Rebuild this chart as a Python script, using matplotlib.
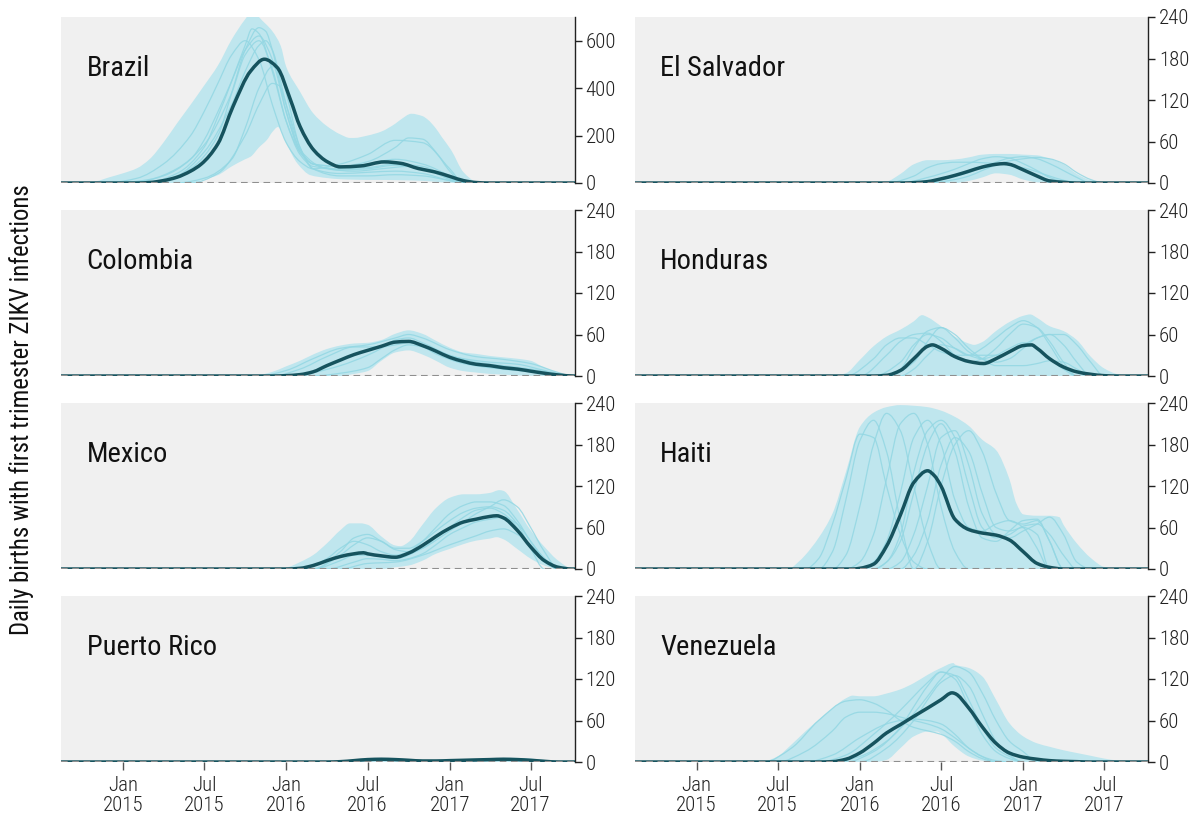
import numpy as np
import pandas as pd
import matplotlib
matplotlib.use("Agg")
import matplotlib.pyplot as plt
import matplotlib.dates as mdates
from matplotlib import font_manager
from matplotlib.path import Path
from matplotlib.patches import PathPatch

# ---------------------------------------------------------------- fonts
installed = {f.name for f in font_manager.fontManager.ttflist}
FONT = "DejaVu Sans"
for fam in ["Roboto Condensed", "Liberation Sans Narrow", "Roboto"]:
    if fam in installed:
        FONT = fam
        break
plt.rcParams["font.family"] = [FONT, "DejaVu Sans"]

# ---------------------------------------------------------------- data
# Time is given in months since 1 Jan 2015 (fractions = part of the month).
T_START, T_END = -4.55, 33.2

# Brazil
brazil_hi_t = [-3, -2, -1, 0, 1, 2, 3, 4, 5, 6, 7, 8, 9, 9.6, 10, 11, 11.6, 12, 13, 14, 15, 16, 16.7,
               17, 18, 19, 20, 20.4, 21.2, 22, 22.4, 23, 23.4, 24.1, 25, 26, 27]
brazil_hi_v = [0, 7, 24, 41, 62, 100, 170, 250, 330, 410, 495, 605, 690, 730, 700, 640, 579, 490, 385,
               295, 240, 205, 190, 190, 200, 217, 250, 267, 292, 282, 267, 230, 196, 139, 45, 6, 0]
brazil_lo_t = [5, 6, 7, 8, 9, 9.4, 10, 10.6, 11, 11.4, 12, 12.8, 13.8, 15, 16, 17, 18, 19, 20, 21, 22, 23, 24, 25]
brazil_lo_v = [0, 15, 33, 70, 100, 111, 150, 182, 215, 236, 168, 83, 33, 21, 16, 14, 13, 13, 12, 11, 9, 5, 1, 0]
brazil_med_t = [1, 2, 3, 4, 5, 5.8, 7, 8.1, 9.4, 10.4, 11.35, 12.3, 13, 14.05, 15.05, 16, 17.5, 19.2,
                20.4, 21.7, 22.9, 24.1, 25, 26, 27]
brazil_med_v = [0, 2, 10, 24, 50, 80, 165, 323, 472, 522, 487, 352, 238, 139, 89, 68, 72, 89, 83, 61,
                47, 26, 10, 2, 0]
brazil_sim_t = [
    [2, 4, 6, 7, 8, 9, 9.5, 10, 11, 12, 13, 14, 16, 18, 20, 22, 24, 25],
    [1, 3, 5, 6, 7, 8, 9, 10, 11, 12, 13, 14, 16, 18, 20, 22, 24, 25],
    [4, 6, 8, 9, 10, 11, 11.5, 12, 13, 14, 16, 18, 20, 22, 24, 25],
    [-1, 1, 3, 5, 6, 7, 8, 9, 10, 11, 12, 13, 14, 16, 18, 20, 22, 24, 25],
    [3, 5, 7, 8, 9, 10, 10.5, 11, 12, 13, 14, 16, 18, 20, 22, 23, 24, 25],
    [5, 7, 9, 10, 11, 11.5, 12, 13, 14, 16, 18, 20, 22, 24, 25],
    [0, 2, 4, 6, 8, 9, 10, 11, 12, 13, 14, 16, 18, 20, 21, 22, 23, 24, 25],
    [2, 4, 6, 8, 9, 10, 10.5, 11, 12, 13, 15, 17, 19, 21, 23, 24, 25],
]
brazil_sim_v = [
    [5, 40, 150, 280, 430, 580, 650, 630, 470, 260, 120, 70, 60, 65, 80, 70, 20, 0],
    [5, 30, 100, 180, 300, 430, 560, 620, 520, 300, 140, 80, 70, 80, 100, 80, 30, 0],
    [0, 20, 100, 230, 400, 490, 480, 380, 150, 60, 40, 45, 50, 40, 10, 0],
    [2, 20, 80, 200, 300, 420, 540, 600, 520, 330, 170, 90, 60, 80, 120, 180, 170, 60, 0],
    [10, 60, 200, 380, 560, 655, 640, 560, 300, 130, 80, 55, 60, 75, 60, 40, 15, 0],
    [0, 40, 200, 330, 420, 410, 330, 150, 60, 30, 30, 35, 30, 10, 0],
    [3, 15, 60, 160, 380, 540, 600, 480, 260, 130, 80, 70, 90, 150, 190, 185, 130, 50, 0],
    [2, 30, 130, 330, 470, 580, 600, 560, 330, 140, 60, 50, 60, 70, 45, 15, 0],
]

# El Salvador
salvador_hi_t = [13, 14, 15, 16, 17, 18, 19, 20, 21, 22, 23, 24, 25, 26, 27, 28, 29, 30, 31]
salvador_hi_v = [0, 2, 13, 27, 33, 33, 34, 37, 41, 42, 42, 41, 40, 35, 27, 13, 4, 1, 0]
salvador_lo_t = [19, 20, 21, 22, 23, 24, 25, 26]
salvador_lo_v = [0, 3, 8, 14, 12, 5, 1, 0]
salvador_med_t = [15, 16, 17, 18, 19, 20, 21, 22, 22.6, 23, 24, 25, 26, 27, 28]
salvador_med_v = [0, 0.5, 2, 6, 11, 17, 23, 27, 28, 27, 19, 10, 3, 1, 0]
salvador_sim_t = [
    [15, 17, 19, 20, 21, 22, 23, 24, 25, 26, 27, 28],
    [16, 18, 20, 21, 22, 23, 24, 25, 26, 27, 28, 29],
    [14, 16, 17, 18, 19, 20, 22, 24, 26, 27, 28],
    [17, 19, 20, 21, 22, 23, 24, 25, 26, 27, 28, 29, 30],
]
salvador_sim_v = [
    [0, 8, 20, 28, 35, 38, 36, 28, 18, 8, 2, 0],
    [0, 5, 15, 22, 30, 36, 38, 35, 28, 18, 8, 0],
    [0, 10, 22, 28, 30, 30, 28, 22, 10, 4, 0],
    [0, 5, 10, 18, 26, 32, 35, 37, 35, 28, 15, 5, 0],
]

# Colombia
colombia_hi_t = [9, 10, 11, 12, 13, 14, 15, 16, 17, 18, 19, 20, 21, 22, 23, 24, 25, 26, 27, 28, 29, 30, 31, 32, 33.2]
colombia_hi_v = [0, 1.5, 6, 14, 22, 31, 39, 44, 47, 48, 52, 61, 66, 61, 51, 41, 34, 32, 29, 27, 25, 22, 12, 5, 0]
colombia_lo_t = [16, 17, 18, 19, 20, 21, 22, 23, 24, 25, 26, 27, 28, 29, 30, 31]
colombia_lo_v = [0, 3, 7, 22, 34, 37, 31, 22, 12, 7, 5, 3, 2, 1, 0.5, 0]
colombia_med_t = [11, 12, 13, 14, 15, 16, 17, 18, 19, 20, 21, 22, 23, 24, 25, 26, 27, 28, 29, 30, 31, 32, 33.2]
colombia_med_v = [0, 0.5, 2, 6, 15, 23, 31, 37, 43, 49, 50, 44, 36, 27, 21, 17, 15, 12, 10, 7, 4, 1.5, 0]
colombia_sim_t = [
    [10, 12, 14, 16, 18, 20, 21, 22, 24, 26, 28, 30, 32, 33],
    [12, 14, 16, 18, 19, 20, 21, 22, 24, 26, 28, 30, 32, 33],
    [11, 13, 15, 17, 19, 20, 21, 22, 23, 25, 27, 29, 31, 33],
    [14, 16, 18, 19, 20, 21, 22, 23, 25, 27, 29, 31, 33],
]
colombia_sim_v = [
    [0, 8, 25, 40, 45, 55, 60, 55, 38, 28, 24, 18, 5, 0],
    [0, 5, 15, 30, 40, 52, 55, 48, 30, 20, 15, 10, 3, 0],
    [0, 10, 28, 42, 42, 45, 48, 45, 35, 25, 20, 17, 8, 0],
    [0, 4, 12, 25, 38, 45, 42, 32, 18, 12, 8, 4, 0],
]

# Honduras
honduras_hi_t = [10, 11, 12, 13, 14, 15, 16, 16.6, 17, 18, 19, 20, 20.4, 21, 22, 23, 24, 24.5, 25, 26, 27,
                 28, 29, 30, 31, 32]
honduras_hi_v = [0, 4, 23, 43, 57, 67, 79, 88, 85, 72, 57, 47, 45, 49, 65, 78, 87, 89, 84, 72, 65, 52, 28,
                 11, 2.5, 0]
honduras_lo_t = [15, 28]
honduras_lo_v = [0, 0]
honduras_med_t = [13, 14, 15, 16, 17, 17.35, 18, 19, 20, 21.1, 22, 23, 24, 24.6, 25, 26, 27, 28, 29, 30, 31]
honduras_med_v = [0, 1, 8, 25, 43, 45, 40, 28, 21, 18, 25, 35, 44, 45, 40, 25, 13, 6, 2.5, 0.5, 0]
honduras_sim_t = [
    [12, 14, 15, 16, 17, 18, 19, 20, 21, 22, 23, 24, 25, 26, 27, 28],
    [14, 15, 16, 17, 18, 19, 20, 21, 22, 23, 24, 25, 26, 27, 28, 29],
    [13, 15, 16, 17, 18, 19, 20, 22, 24, 25, 26, 27, 28, 29, 30],
    [15, 16, 17, 18, 19, 20, 21, 22, 23, 24, 25, 26, 27, 28],
    [14, 16, 17, 18, 19, 20, 21, 22, 24, 25, 26, 27, 28, 29],
    [11, 13, 14, 15, 16, 17, 18, 19, 20, 21, 22, 23, 24, 25, 26, 27, 28],
]
honduras_sim_v = [
    [0, 30, 50, 60, 62, 50, 30, 20, 25, 40, 60, 75, 70, 50, 20, 0],
    [0, 10, 40, 65, 70, 55, 35, 25, 20, 25, 40, 55, 60, 45, 20, 0],
    [0, 20, 45, 60, 55, 40, 30, 30, 45, 55, 60, 60, 45, 20, 0],
    [0, 10, 30, 45, 40, 30, 25, 30, 40, 48, 40, 25, 10, 0],
    [0, 20, 50, 70, 60, 40, 25, 15, 15, 18, 22, 20, 10, 0],
    [0, 25, 45, 55, 55, 45, 35, 30, 30, 40, 55, 70, 80, 70, 45, 15, 0],
]

# Mexico
mexico_hi_t = [11, 12, 13, 14, 15, 16, 16.7, 17.5, 18, 19, 20, 20.4, 21, 22, 23, 24, 25, 26, 27, 27.7, 28,
               29, 30, 31, 32, 33]
mexico_hi_v = [0, 2, 10, 20, 37, 56, 66, 66, 64, 47, 34, 33, 39, 64, 88, 103, 108, 108, 110, 114, 113, 86,
               56, 32, 12, 1]
mexico_lo_t = [19, 20, 21, 22, 23, 24, 25, 26, 27, 27.5, 28, 29, 30, 31, 32]
mexico_lo_v = [0, 2.5, 5, 12, 22, 29, 36, 41, 44, 46, 43, 29, 15, 5, 0]
mexico_med_t = [12, 13, 14, 15, 16, 17, 17.7, 18, 19, 20, 21, 22, 23, 24, 25, 26, 27, 27.5, 28, 29, 30, 31,
                32, 33]
mexico_med_v = [0, 1, 5, 12, 18, 22, 23.5, 22, 19, 17, 23, 34, 47, 59, 68, 72, 76, 77, 74, 56, 32, 12, 2.5, 0]
mexico_sim_t = [
    [13, 15, 16, 17, 18, 19, 20, 21, 22, 23, 24, 25, 26, 27, 28, 29, 30, 31, 32],
    [14, 16, 17, 18, 19, 20, 21, 22, 23, 24, 25, 26, 27, 28, 29, 30, 31, 32],
    [15, 17, 18, 19, 20, 21, 22, 23, 24, 25, 26, 27, 28, 29, 30, 31, 32],
    [14, 16, 17, 18, 20, 22, 24, 25, 26, 27, 28, 29, 30, 31, 32],
    [16, 18, 20, 22, 24, 26, 27, 28, 29, 30, 31, 32],
    [14, 16, 17, 18, 19, 20, 21, 22, 23, 24, 25, 26, 27, 28, 29, 30, 31],
]
mexico_sim_v = [
    [0, 15, 30, 40, 35, 25, 20, 25, 40, 60, 80, 92, 97, 97, 92, 70, 40, 15, 0],
    [0, 20, 35, 45, 40, 28, 25, 30, 45, 60, 75, 85, 88, 80, 60, 30, 10, 0],
    [0, 10, 15, 14, 12, 15, 22, 35, 50, 60, 68, 72, 75, 65, 40, 15, 0],
    [0, 12, 20, 20, 15, 30, 55, 68, 80, 90, 100, 90, 60, 25, 0],
    [0, 8, 10, 20, 35, 48, 55, 58, 50, 35, 15, 0],
    [0, 25, 45, 50, 40, 30, 30, 40, 55, 70, 82, 88, 90, 85, 65, 30, 0],
]

# Haiti
haiti_hi_t = [6.8, 7.5, 8, 9, 10, 11, 12, 13, 14, 15, 16, 17, 18, 19, 20, 21, 22, 23, 23.5, 24, 25, 26,
              26.7, 27, 28, 29, 30, 31]
haiti_hi_v = [0, 10, 20, 45, 80, 140, 205, 226, 234, 237, 236, 234, 229, 220, 207, 187, 172, 130, 95, 79,
              77, 77, 75, 64, 37, 16, 3, 0]
haiti_lo_t = [6.8, 31]
haiti_lo_v = [0, 0]
haiti_med_t = [11.5, 12, 13, 14, 15, 16, 17, 17.5, 18, 19, 20, 21, 22, 23, 24, 25, 26, 27]
haiti_med_v = [0, 1, 7, 33, 78, 125, 142, 135, 120, 72, 57, 52, 49, 42, 25, 8, 2.4, 0]
haiti_sim_t = [
    [8, 9, 10, 11, 12, 13, 14, 15, 16, 17],
    [10, 11, 12, 13, 14, 15, 16, 17, 18],
    [11, 12, 13, 14, 15, 16, 17, 18, 19, 20],
    [12, 13, 14, 15, 16, 17, 18, 19, 20, 21, 22, 23, 24, 25, 26],
    [13, 14, 15, 16, 17, 18, 19, 20, 21, 22, 23, 24, 25, 26, 27],
    [14, 15, 16, 17, 18, 19, 20, 21, 22, 23, 24, 25, 26, 27, 28, 29],
    [15, 16, 17, 18, 19, 20, 21, 22, 23, 24, 25, 26],
    [9, 10, 11, 12, 13, 14, 15, 16],
    [13, 14, 15, 16, 17, 18, 19, 20, 21, 22, 23, 24, 25, 26, 27, 28],
    [16, 17, 18, 19, 20, 21, 22, 23, 24, 25, 26, 27],
]
haiti_sim_v = [
    [0, 15, 65, 130, 195, 190, 120, 50, 10, 0],
    [0, 20, 90, 180, 225, 200, 120, 40, 0],
    [0, 10, 50, 130, 210, 225, 180, 90, 25, 0],
    [0, 10, 40, 110, 190, 215, 180, 100, 60, 55, 65, 70, 60, 30, 0],
    [0, 10, 40, 110, 180, 210, 170, 90, 45, 40, 55, 70, 72, 40, 0],
    [0, 10, 50, 120, 190, 200, 150, 80, 50, 45, 55, 65, 75, 50, 10, 0],
    [0, 20, 70, 150, 190, 170, 110, 60, 55, 60, 50, 0],
    [0, 25, 100, 185, 215, 170, 70, 0],
    [0, 10, 50, 140, 200, 215, 190, 120, 60, 45, 50, 62, 65, 50, 20, 0],
    [0, 40, 120, 180, 200, 170, 110, 70, 65, 70, 40, 0],
]

# Puerto Rico
puerto_hi_t = [15, 16, 17, 18, 19, 20, 21, 22, 23, 24, 25, 26, 27, 28, 29, 30, 31, 32, 33]
puerto_hi_v = [0, 1, 3, 5, 6, 5, 3, 2, 2, 2.5, 3, 4, 5, 6, 6, 5, 3, 1, 0]
puerto_lo_t = [15, 33]
puerto_lo_v = [0, 0]
puerto_med_t = [15, 16, 17, 18, 19, 20, 21, 22, 23, 24, 25, 26, 27, 28, 29, 30, 31, 32]
puerto_med_v = [0, 0.5, 2, 3.5, 4, 3.5, 2.5, 1.5, 1.5, 2, 2.5, 3, 3.5, 4, 3.5, 2.5, 1, 0]
puerto_sim_t = []
puerto_sim_v = []

# Venezuela
venezuela_hi_t = [4, 5, 6, 7, 8, 9, 10, 11, 11.5, 12, 13, 14, 15, 16, 17, 18, 18.9, 19, 20, 21, 22, 23,
                  24, 25, 26, 27, 28, 29, 30, 31, 32]
venezuela_hi_v = [0, 1, 8, 25, 44, 61, 78, 92, 96, 95, 95, 99, 105, 114, 126, 136, 143, 141, 136, 124, 90,
                  56, 37, 27, 22, 17, 13, 9, 5, 2, 0]
venezuela_lo_t = [13, 14, 15, 16, 17, 17.7, 18, 19, 20, 21, 22]
venezuela_lo_v = [0, 3, 20, 37, 44, 44, 41, 22, 8, 2, 0]
venezuela_med_t = [9, 10, 11, 12, 13, 14, 15, 16, 17, 18, 18.8, 19, 20, 21, 22, 23, 24, 25, 26, 27, 28, 29]
venezuela_med_v = [0, 0.5, 4, 13, 27, 42, 54, 66, 78, 90, 100, 99, 78, 51, 27, 13, 7, 4, 2, 1, 0.5, 0]
venezuela_sim_t = [
    [5, 7, 9, 11, 12, 13, 14, 15, 16, 17, 18, 19, 20, 21, 22],
    [6, 8, 10, 11, 12, 13, 14, 15, 16, 17, 18, 19, 20, 21, 22, 23],
    [9, 11, 13, 15, 16, 17, 18, 19, 20, 21, 22, 23, 24],
    [10, 12, 14, 16, 17, 18, 19, 20, 21, 22, 23, 24, 25],
    [11, 13, 15, 16, 17, 18, 19, 20, 21, 22, 23, 24],
    [8, 10, 12, 14, 15, 16, 17, 18, 19, 20, 21, 22],
    [12, 14, 16, 17, 18, 19, 20, 21, 22, 23, 24],
]
venezuela_sim_v = [
    [0, 20, 60, 88, 90, 85, 75, 60, 50, 45, 40, 30, 15, 5, 0],
    [0, 15, 45, 65, 72, 72, 70, 65, 60, 55, 48, 35, 20, 8, 2, 0],
    [0, 10, 40, 75, 95, 115, 130, 125, 90, 50, 20, 8, 0],
    [0, 8, 30, 70, 95, 120, 138, 130, 100, 60, 30, 15, 0],
    [0, 15, 50, 80, 110, 130, 120, 80, 40, 15, 5, 0],
    [0, 10, 35, 55, 60, 62, 60, 55, 40, 20, 8, 0],
    [0, 20, 60, 90, 115, 125, 110, 70, 30, 10, 0],
]

countries = ["Brazil", "El Salvador", "Colombia", "Honduras", "Mexico", "Haiti", "Puerto Rico", "Venezuela"]
y_max = [700, 240, 240, 240, 240, 240, 240, 240]
y_ticks = [[0, 200, 400, 600]] + [[0, 60, 120, 180, 240]] * 7
x_tick_months = [0, 6, 12, 18, 24, 30]
x_tick_labels = ["Jan\n2015", "Jul\n2015", "Jan\n2016", "Jul\n2016", "Jan\n2017", "Jul\n2017"]
y_label = "Daily births with first trimester ZIKV infections"

series = {
    "Brazil": (brazil_hi_t, brazil_hi_v, brazil_lo_t, brazil_lo_v, brazil_med_t, brazil_med_v, brazil_sim_t, brazil_sim_v),
    "El Salvador": (salvador_hi_t, salvador_hi_v, salvador_lo_t, salvador_lo_v, salvador_med_t, salvador_med_v, salvador_sim_t, salvador_sim_v),
    "Colombia": (colombia_hi_t, colombia_hi_v, colombia_lo_t, colombia_lo_v, colombia_med_t, colombia_med_v, colombia_sim_t, colombia_sim_v),
    "Honduras": (honduras_hi_t, honduras_hi_v, honduras_lo_t, honduras_lo_v, honduras_med_t, honduras_med_v, honduras_sim_t, honduras_sim_v),
    "Mexico": (mexico_hi_t, mexico_hi_v, mexico_lo_t, mexico_lo_v, mexico_med_t, mexico_med_v, mexico_sim_t, mexico_sim_v),
    "Haiti": (haiti_hi_t, haiti_hi_v, haiti_lo_t, haiti_lo_v, haiti_med_t, haiti_med_v, haiti_sim_t, haiti_sim_v),
    "Puerto Rico": (puerto_hi_t, puerto_hi_v, puerto_lo_t, puerto_lo_v, puerto_med_t, puerto_med_v, puerto_sim_t, puerto_sim_v),
    "Venezuela": (venezuela_hi_t, venezuela_hi_v, venezuela_lo_t, venezuela_lo_v, venezuela_med_t, venezuela_med_v, venezuela_sim_t, venezuela_sim_v),
}


def to_dates(months):
    """Months since 1 Jan 2015 (fractional) -> timestamps."""
    out = []
    base = pd.Timestamp(2015, 1, 1)
    for m in months:
        whole = int(np.floor(m))
        frac = m - whole
        start = base + pd.DateOffset(months=whole)
        nxt = base + pd.DateOffset(months=whole + 1)
        out.append(start + (nxt - start) * frac)
    return pd.DatetimeIndex(out)


def curve(months, values):
    """Bezier vertices/codes of a shape-preserving curve through the points."""
    x = mdates.date2num(to_dates(months))
    y = np.asarray(values, float)
    n = len(x)
    h = np.diff(x)
    d = np.diff(y) / h
    slope = np.zeros(n)
    for i in range(1, n - 1):
        if d[i - 1] * d[i] > 0:
            w1 = 2 * h[i] + h[i - 1]
            w2 = h[i] + 2 * h[i - 1]
            slope[i] = (w1 + w2) / (w1 / d[i - 1] + w2 / d[i])
    verts = [(x[0], y[0])]
    codes = [Path.MOVETO]
    for i in range(n - 1):
        verts += [(x[i] + h[i] / 3, y[i] + slope[i] * h[i] / 3),
                  (x[i + 1] - h[i] / 3, y[i + 1] - slope[i + 1] * h[i] / 3),
                  (x[i + 1], y[i + 1])]
        codes += [Path.CURVE4] * 3
    return verts, codes


def band(hi_t, hi_v, lo_t, lo_v):
    vu, cu = curve(hi_t, hi_v)
    vl, cl = curve(lo_t, lo_v)
    verts = vu + [vl[-1]] + vl[::-1][1:] + [vu[0]]
    codes = cu + [Path.LINETO] + [Path.CURVE4] * (len(vl) - 1) + [Path.CLOSEPOLY]
    return Path(verts, codes)


# ---------------------------------------------------------------- style
BG = "#f0f0f0"
BAND = "#bfe6ee"
SIM = "#93d7e3"
MEDIAN = "#16535e"
BASE = "#8f8f8f"
INK = "#222222"
TICK_SIZE = 15

W, H = 1196, 823
fig = plt.figure(figsize=(W / 100, H / 100), dpi=100)

col_left = [61, 634.5]
col_width = 513.5
row_top = [17, 210, 403, 596]
row_height = 166

for i, name in enumerate(countries):
    r, c = divmod(i, 2)
    ax = fig.add_axes([col_left[c] / W, 1 - (row_top[r] + row_height) / H, col_width / W, row_height / H])
    ax.set_facecolor(BG)
    hi_t, hi_v, lo_t, lo_v, med_t, med_v, sim_t, sim_v = series[name]

    ax.add_patch(PathPatch(band(hi_t, hi_v, lo_t, lo_v), facecolor=BAND, edgecolor="none", zorder=1))

    for st, sv in zip(sim_t, sim_v):
        v, cds = curve(st, sv)
        ax.add_patch(PathPatch(Path(v, cds), facecolor="none", edgecolor=SIM, lw=0.9,
                               alpha=0.85, zorder=2))

    mt = [T_START - 1] + list(med_t) + [T_END + 1]
    mv = [0] + list(med_v) + [0]
    v, cds = curve(mt, mv)
    ax.add_patch(PathPatch(Path(v, cds), facecolor="none", edgecolor=MEDIAN, lw=2.5,
                           joinstyle="round", capstyle="round", zorder=3))

    ax.axhline(0, color=BASE, lw=1.5, ls=(0, (3.2, 2.2)), zorder=4)

    ax.set_xlim(to_dates([T_START])[0], to_dates([T_END])[0])
    ax.set_ylim(0, y_max[i])

    for s in ["left", "top", "bottom"]:
        ax.spines[s].set_visible(False)
    ax.spines["right"].set_color(INK)
    ax.spines["right"].set_linewidth(1.0)

    ax.yaxis.tick_right()
    ax.set_yticks(y_ticks[i])
    ax.tick_params(axis="y", direction="out", length=5, width=1, colors=INK,
                   labelsize=TICK_SIZE, pad=3)
    for lab in ax.get_yticklabels():
        lab.set_fontweight("light")

    ax.set_xticks(to_dates(x_tick_months))
    if r == 3:
        ax.set_xticklabels(x_tick_labels)
        ax.tick_params(axis="x", direction="out", length=6, width=1, colors="#555555",
                       labelcolor=INK, labelsize=TICK_SIZE, pad=4)
        for lab in ax.get_xticklabels():
            lab.set_fontweight("light")
            lab.set_linespacing(1.1)
    else:
        ax.tick_params(axis="x", length=0, labelbottom=False)

    ax.text(0.05, 0.645, name, transform=ax.transAxes, fontsize=20.5, color="#111111",
            ha="left", va="baseline", zorder=6)

fig.text(22 / W, 1 - 410 / H, y_label, rotation=90, ha="center", va="center",
         fontsize=17.8, color="#111111")

fig.savefig("out.png", dpi=100, facecolor="white")
